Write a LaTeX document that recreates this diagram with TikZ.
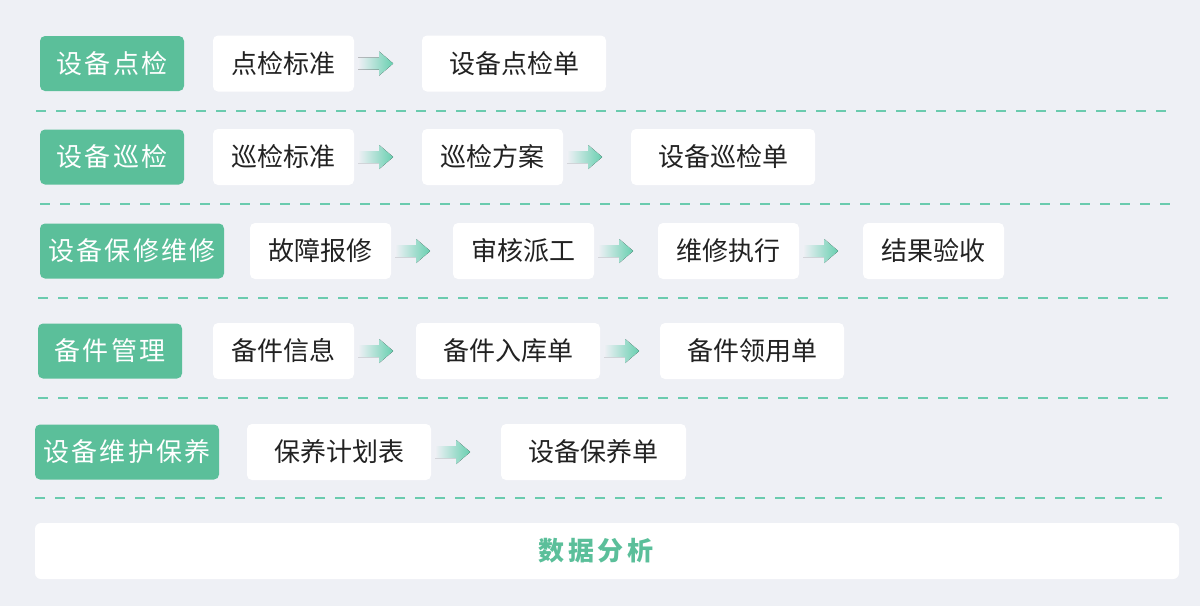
\documentclass[tikz,border=0pt]{standalone}
\usepackage{fontspec}
\setmainfont{Noto Sans CJK SC}
\newfontfamily\cjk{Noto Sans CJK SC}
\newfontfamily\cjkls[LetterSpace=9]{Noto Sans CJK SC}
\newfontfamily\cjkbs[LetterSpace=15]{Noto Sans CJK SC}
\usetikzlibrary{calc}
\definecolor{bgc}{HTML}{EEF0F5}
\definecolor{gbox}{HTML}{5BBF9A}
\definecolor{dashc}{HTML}{6ACBAE}
\definecolor{arrc}{HTML}{68CFB0}
\definecolor{txt}{HTML}{222222}
\tikzset{
  gbox/.style={fill=gbox, rounded corners=5pt, minimum height=55pt, inner sep=0pt,
    text=white, font=\cjkls\fontsize{26}{30}\selectfont},
  wbox/.style={fill=white, rounded corners=5pt, minimum height=56pt, inner sep=0pt,
    text=txt, font=\cjk\fontsize{26}{30}\selectfont},
  sep/.style={draw=dashc, line width=2.5pt, dash pattern=on 10pt off 10pt},
  flowarrow/.pic={
    \fill[left color=bgc, right color=arrc, shading angle=90]
      (-18,-6) -- (3,-6) -- (3,-12) -- (17,0) -- (3,12) -- (3,6) -- (-18,6) -- cycle;
  }
}
\begin{document}
\begin{tikzpicture}[x=1pt,y=-1pt]
\fill[bgc] (0,0) rectangle (1200,606);
\useasboundingbox (0,0) rectangle (1200,606);

% Row 1
\node[gbox, minimum width=144pt] (g1) at (112,63.5) {设备点检};
\node[wbox, minimum width=141pt] (w11) at (283.5,63.5) {点检标准};
\node[wbox, minimum width=184pt] (w12) at (514,63.5) {设备点检单};
\pic at ($(w11.east)+(22,0)$) {flowarrow};

\draw[sep] (36,111) -- (1166,111);

% Row 2
\node[gbox, minimum width=144pt] (g2) at (112,157) {设备巡检};
\node[wbox, minimum width=141pt] (w21) at (283.5,157) {巡检标准};
\node[wbox, minimum width=141pt] (w22) at (492.5,157) {巡检方案};
\node[wbox, minimum width=184pt] (w23) at (723,157) {设备巡检单};
\pic at ($(w21.east)+(22,0)$) {flowarrow};
\pic at ($(w22.east)+(22,0)$) {flowarrow};

\draw[sep] (40,204) -- (1170,204);

% Row 3
\node[gbox, minimum width=184pt] (g3) at (132,251) {设备保修维修};
\node[wbox, minimum width=141pt] (w31) at (320.5,251) {故障报修};
\node[wbox, minimum width=141pt] (w32) at (523.5,251) {审核派工};
\node[wbox, minimum width=141pt] (w33) at (728.5,251) {维修执行};
\node[wbox, minimum width=141pt] (w34) at (933.5,251) {结果验收};
\pic at ($(w31.east)+(22,0)$) {flowarrow};
\pic at ($(w32.east)+(22,0)$) {flowarrow};
\pic at ($(w33.east)+(22,0)$) {flowarrow};

\draw[sep] (38,298) -- (1168,298);

% Row 4
\node[gbox, minimum width=144pt] (g4) at (110,351) {备件管理};
\node[wbox, minimum width=141pt] (w41) at (283.5,351) {备件信息};
\node[wbox, minimum width=184pt] (w42) at (508,351) {备件入库单};
\node[wbox, minimum width=184pt] (w43) at (752,351) {备件领用单};
\pic at ($(w41.east)+(22,0)$) {flowarrow};
\pic at ($(w42.east)+(22,0)$) {flowarrow};

\draw[sep] (38,398) -- (1168,398);

% Row 5
\node[gbox, minimum width=184pt] (g5) at (127,452) {设备维护保养};
\node[wbox, minimum width=184pt] (w51) at (339,452) {保养计划表};
\node[wbox, minimum width=185pt] (w52) at (593.5,452) {设备保养单};
\pic at ($(w51.east)+(22,0)$) {flowarrow};

\draw[sep] (35,498) -- (1162,498);

% Bottom
\node[fill=white, rounded corners=6pt, minimum width=1144pt, minimum height=56pt, inner sep=0pt] (da) at (607,551) {};
\node[text=gbox, font=\cjkbs\bfseries\fontsize{26}{30}\selectfont, inner sep=0pt] (dat) at (596,551) {数据分析};
\end{tikzpicture}
\end{document}
